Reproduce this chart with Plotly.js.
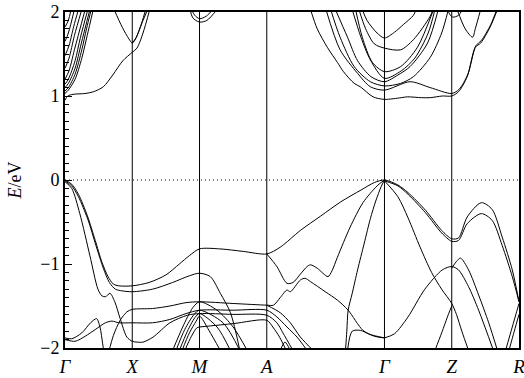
<!DOCTYPE html>
<html><head><meta charset="utf-8">
<script src="https://cdn.plot.ly/plotly-3.0.1.min.js"></script>
<style>html,body{margin:0;padding:0;background:#fff}#plot{width:524px;height:378px}</style>
</head><body><div id="plot"></div>
<script>
// high-symmetry points
const kLabels = ['Γ','X','M','A','Γ','Z','R'];
const kPos = [0, 1, 2, 3, 4.75, 5.75, 6.75];

// ---- valence bands: [k, E(eV)] ----
const vb1 = [[0,0],[0.1,-0.05],[0.2,-0.17],[0.33,-0.42],[0.45,-0.72],[0.55,-0.98],[0.64,-1.15],[0.72,-1.24],[0.8,-1.26],[1.0,-1.26],
  [1.25,-1.22],[1.5,-1.13],[1.7,-1.0],[1.85,-0.9],[2.0,-0.82],[2.3,-0.82],[2.65,-0.85],[3.0,-0.88],
  [3.2,-0.8],[3.5,-0.6],[3.8,-0.43],[4.1,-0.26],[4.4,-0.12],[4.6,-0.03],[4.75,0],
  [4.95,-0.06],[5.1,-0.15],[5.36,-0.36],[5.6,-0.6],[5.75,-0.70],[5.85,-0.69],[5.98,-0.44],[6.19,-0.27],[6.35,-0.35],[6.5,-0.68],[6.65,-1.07],[6.75,-1.45]];
const vb2 = [[0,-0.01],[0.1,-0.07],[0.2,-0.2],[0.34,-0.47],[0.46,-0.78],[0.57,-1.05],[0.66,-1.22],[0.75,-1.3],[0.85,-1.32],[1.0,-1.33],
  [1.3,-1.3],[1.6,-1.22],[1.85,-1.14],[2.0,-1.11],[2.16,-1.15],[2.31,-1.35],[2.46,-1.58],[2.6,-2.03]];
const vb2b = [[3.0,-0.88],[3.15,-1.03],[3.3,-1.23],[3.39,-1.22],[3.5,-1.12],[3.6,-1.03],[3.65,-1.01],[3.75,-1.05],[3.91,-1.15],[3.97,-1.08],[4.05,-0.92],[4.24,-0.56],[4.43,-0.27],[4.64,-0.07],[4.75,0]];
const vb2c = [[4.75,-0.01],[4.95,-0.07],[5.1,-0.17],[5.36,-0.39],[5.6,-0.63],[5.75,-0.73],[5.85,-0.72],[5.98,-0.52],[6.19,-0.40],[6.35,-0.48],[6.5,-0.78],[6.65,-1.15],[6.75,-1.45]];
const vb3 = [[0,-0.02],[0.1,-0.1],[0.22,-0.4],[0.37,-0.9],[0.49,-1.3],[0.55,-1.38],[0.6,-1.39],[0.67,-1.35],[0.74,-1.45],[0.82,-1.65],[0.92,-1.87],[1.0,-1.92],
  [1.07,-1.93],[1.16,-1.93],[1.31,-1.87],[1.56,-1.7],[1.82,-1.61],[2.0,-1.59],[2.5,-1.60],[3.0,-1.61],[3.15,-1.7],[3.24,-1.82],[3.39,-2.03]];
const vb4 = [[0,-1.88],[0.1,-1.89],[0.25,-1.82],[0.38,-1.7],[0.47,-1.65],[0.52,-1.75],[0.56,-1.95],[0.58,-2.05]];
const vb5 = [[0,-1.9],[0.15,-1.92],[0.3,-1.86],[0.45,-1.78],[0.6,-1.7],[0.7,-1.68],[0.8,-1.70],[1.0,-1.70],
  [1.3,-1.70],[1.56,-1.66],[1.8,-1.59],[2.0,-1.55],[2.5,-1.55],[3.0,-1.55],[3.15,-1.63],[3.3,-1.75],[3.45,-1.87],[3.6,-2.03]];
const vb6 = [[0.65,-2.05],[0.72,-1.85],[0.82,-1.67],[0.92,-1.57],[1.0,-1.54],[1.3,-1.53],[1.56,-1.5],[1.8,-1.46],[2.0,-1.45],[2.5,-1.47],[3.0,-1.49],
  [3.1,-1.49],[3.2,-1.4],[3.3,-1.31],[3.35,-1.33],[3.5,-1.19],[3.57,-1.17],[3.65,-1.21],[3.87,-1.33],[4.05,-1.43],[4.21,-1.55],[4.43,-1.79],[4.6,-1.86],[4.75,-1.88]];
const vb7 = [[2.0,-1.75],[2.5,-1.71],[3.0,-1.67],[3.09,-1.75],[3.19,-1.87],[3.29,-2.03]];
const vb8 = [[3.0,-1.49],[3.2,-1.58],[3.35,-1.7],[3.5,-1.87],[3.69,-2.03]];
const vbArch = [[3.2,-2.03],[3.27,-1.93],[3.35,-2.03]];
const vbP1 = [[1.6,-2.03],[1.75,-1.75],[1.9,-1.52],[2.0,-1.45],[2.26,-1.55],[2.5,-1.75],[2.71,-2.03]];
const vbP2 = [[1.65,-2.03],[1.78,-1.78],[1.92,-1.6],[2.0,-1.55],[2.35,-1.70],[2.6,-2.03]];
const vbP3 = [[1.7,-2.03],[1.82,-1.8],[1.93,-1.64],[2.0,-1.59],[2.26,-1.75],[2.46,-2.03]];
const vbP4 = [[1.74,-2.03],[1.85,-1.82],[1.95,-1.68],[2.0,-1.62],[2.14,-1.79],[2.31,-2.03]];
const vbP5 = [[1.78,-2.03],[1.88,-1.86],[1.96,-1.76],[2.0,-1.75]];
const vbD = [[4.75,0],[4.7,-0.08],[4.62,-0.25],[4.54,-0.46],[4.45,-0.75],[4.35,-1.07],[4.27,-1.35],[4.21,-1.55],[4.19,-1.8],[4.17,-2.03]];
const vbE = [[4.2,-2.03],[4.27,-1.80],[4.39,-1.79],[4.54,-1.84],[4.75,-1.88]];
const vbGZ1 = [[4.75,-0.01],[4.95,-0.2],[5.1,-0.45],[5.28,-0.8],[5.45,-1.1],[5.6,-1.3],[5.75,-1.47],[5.82,-1.6],[5.9,-1.8],[6.0,-2.03]];
const vbGZ2 = [[4.75,-1.88],[4.9,-1.83],[5.1,-1.63],[5.35,-1.3],[5.61,-1.07],[5.75,-1.03],[5.85,-1.07],[6.0,-1.27],[6.15,-1.55],[6.37,-2.03]];
const vbZR = [[5.75,-1.05],[5.82,-0.97],[5.88,-0.93],[6.0,-1.07],[6.15,-1.37],[6.3,-1.7],[6.43,-2.03]];
const vbBZ = [[5.5,-2.03],[5.6,-1.82],[5.7,-1.6],[5.75,-1.5]];
const vbR1 = [[6.55,-2.03],[6.65,-1.75],[6.75,-1.47]];
const vbR2 = [[6.6,-2.03],[6.68,-1.8],[6.75,-1.6]];

// ---- conduction bands ----
const cb1 = [[0,0.95],[0.04,1.0],[0.12,1.02],[0.3,1.03],[0.42,1.05],[0.57,1.11],[0.71,1.25],[0.86,1.42],[1.0,1.52],[1.07,1.57],[1.16,1.75],[1.26,2.03]];
const cb2 = [[0.73,2.03],[0.85,1.82],[0.95,1.68],[1.0,1.63],[1.05,1.68],[1.16,1.9],[1.23,2.03]];
const cb2b = [[1.0,1.63],[1.06,1.7],[1.14,1.87],[1.2,2.03]];
const g1 = [[0,1.03],[0.05,1.07],[0.15,1.2],[0.25,1.45],[0.33,1.72],[0.42,2.03]];
const g2 = [[0,1.06],[0.05,1.1],[0.15,1.26],[0.25,1.55],[0.32,1.8],[0.39,2.03]];
const g3 = [[0,1.1],[0.05,1.15],[0.15,1.33],[0.24,1.62],[0.37,2.03]];
const g4 = [[0,1.14],[0.05,1.2],[0.15,1.42],[0.23,1.7],[0.34,2.03]];
const g5 = [[0,1.2],[0.06,1.3],[0.14,1.55],[0.3,2.03]];
const g6 = [[0,1.33],[0.06,1.45],[0.14,1.72],[0.25,2.03]];
const g7 = [[0,1.48],[0.06,1.6],[0.13,1.83],[0.2,2.03]];
const g8 = [[0,1.65],[0.05,1.75],[0.14,2.03]];
const g9 = [[0,1.82],[0.05,1.9],[0.09,2.03]];
const m1 = [[1.86,2.03],[1.9,1.93],[2.0,1.88],[2.11,1.9],[2.26,2.03]];
const m2 = [[1.88,2.03],[1.93,1.96],[2.0,1.92],[2.1,1.95],[2.2,2.03]];
const ca1 = [[3.65,2.03],[3.75,1.8],[3.9,1.58],[4.05,1.4],[4.14,1.29],[4.3,1.15],[4.39,1.11],[4.58,0.99],[4.75,0.96],
  [5.0,0.98],[5.09,0.99],[5.3,0.98],[5.43,0.98],[5.61,1.0],[5.75,1.0],[5.85,1.05],[5.98,1.23],[6.1,1.58],[6.18,1.63],[6.32,1.82],[6.43,2.03]];
const ca2 = [[3.88,2.03],[4.09,1.55],[4.35,1.27],[4.54,1.11],[4.75,1.07],[5.13,1.17],[5.43,1.1],[5.75,1.03],[5.86,1.08],[5.99,1.26],[6.11,1.6],[6.19,1.66],[6.33,1.85],[6.42,2.03]];
const ca3 = [[3.95,2.03],[4.09,1.7],[4.3,1.35],[4.54,1.17],[4.75,1.12],[4.99,1.15],[5.18,1.23],[5.43,1.46],[5.6,1.75],[5.7,2.03]];
const ca4 = [[4.02,2.03],[4.2,1.7],[4.35,1.42],[4.55,1.23],[4.75,1.17],[4.95,1.25],[5.13,1.35],[5.39,1.63],[5.55,2.03]];
const ca5 = [[4.27,2.03],[4.4,1.7],[4.54,1.43],[4.75,1.21],[5.0,1.3],[5.2,1.45],[5.4,1.75],[5.5,2.03]];
const ca6 = [[4.32,2.03],[4.42,1.7],[4.57,1.4],[4.75,1.29],[4.99,1.35],[5.24,1.58],[5.48,2.03]];
const ca7 = [[4.37,2.03],[4.47,1.8],[4.6,1.62],[4.75,1.57],[4.99,1.55],[5.18,1.67],[5.43,1.95],[5.47,2.03]];
const ca8 = [[4.42,2.03],[4.49,1.9],[4.64,1.75],[4.75,1.69],[4.9,1.76],[5.03,1.85],[5.18,1.96],[5.22,2.03]];
const z1 = [[5.68,2.03],[5.76,1.94],[5.85,1.96],[5.91,2.03]];
const z2 = [[5.83,2.03],[5.95,1.8],[6.06,1.70],[6.1,1.8],[6.18,2.03]];

const bands = [vb1,vb2,vb2b,vb2c,vb3,vb4,vb5,vb6,vb7,vb8,vbArch,vbP1,vbP2,vbP3,vbP4,vbP5,vbD,vbE,vbGZ1,vbGZ2,vbZR,vbBZ,vbR1,vbR2,
  cb1,cb2,cb2b,g1,g2,g3,g4,g5,g6,g7,g8,g9,m1,m2,ca1,ca2,ca3,ca4,ca5,ca6,ca7,ca8,z1,z2];

const traces = bands.map(b => ({
  x: b.map(p => p[0]), y: b.map(p => p[1]),
  type: 'scatter', mode: 'lines',
  line: {color: '#000', width: 1, shape: 'spline', smoothing: 0.8},
  hoverinfo: 'skip', showlegend: false
}));

const serif = 'Liberation Serif';
const shapes = kPos.slice(1, -1).map(k => ({
  type: 'line', xref: 'x', yref: 'paper', x0: k, x1: k, y0: 0, y1: 1,
  line: {color: '#000', width: 1}
}));
shapes.push({type: 'line', xref: 'paper', yref: 'y', x0: 0, x1: 1, y0: 0, y1: 0,
  line: {color: '#000', width: 1, dash: '1px,3px'}});

const layout = {
  width: 524, height: 378,
  margin: {l: 65, r: 5, t: 12, b: 30},
  paper_bgcolor: '#fff', plot_bgcolor: '#fff',
  showlegend: false,
  font: {family: serif, color: '#000'},
  xaxis: {
    range: [0, 6.75], tickvals: kPos, ticktext: kLabels.map(s => '<i>' + s + '</i>'),
    showgrid: false, zeroline: false, ticks: '', showline: true, mirror: true,
    linecolor: '#000', linewidth: 2, ticklabeloverflow: 'allow',
    tickfont: {family: serif, size: 19, color: '#000'}
  },
  yaxis: {
    range: [-2, 2], dtick: 1, tick0: 0, showgrid: false, zeroline: false,
    ticks: 'inside', ticklen: 7, tickwidth: 1, tickcolor: '#000',
    minor: {dtick: 0.1, ticks: 'inside', ticklen: 4, tickcolor: '#000', tickwidth: 1},
    showline: true, mirror: true, linecolor: '#000', linewidth: 2,
    tickfont: {family: serif, size: 18, color: '#000'},
    title: {text: '<i>E</i>/eV', font: {family: serif, size: 18, color: '#000'}, standoff: 14}
  },
  shapes: shapes
};

Plotly.newPlot('plot', traces, layout, {staticPlot: true, displayModeBar: false});
</script>
</body></html>
